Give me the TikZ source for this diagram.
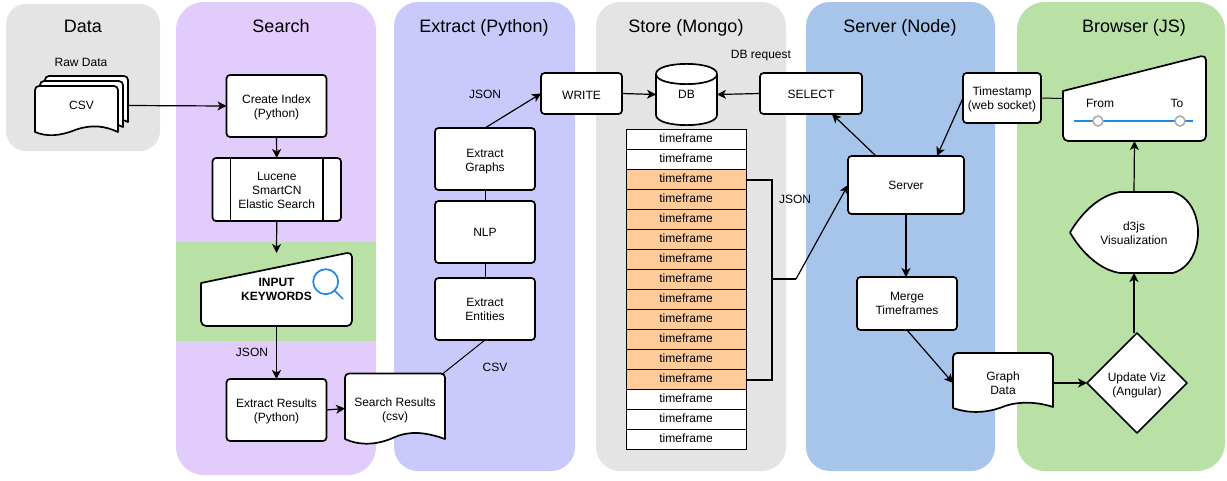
\documentclass[tikz,border=0pt]{standalone}
\usepackage{fontspec}
\setmainfont{Liberation Sans}
\usetikzlibrary{arrows.meta,shapes.geometric,calc}
\definecolor{pgray}{HTML}{E4E4E4}
\definecolor{ppurple}{HTML}{E1CCFB}
\definecolor{pindigo}{HTML}{C9CAFB}
\definecolor{pblue}{HTML}{A7C4EA}
\definecolor{pgreen}{HTML}{B9E0A5}
\definecolor{porange}{HTML}{FFCC99}
\definecolor{iconblue}{HTML}{1E88E5}
\definecolor{knob}{HTML}{AAAAAA}
\newcommand\lowerby[1]{\rule{0pt}{#1pt}}
\tikzset{
  every node/.style={inner sep=0pt,outer sep=0pt,align=center,font=\fontsize{12}{14}\selectfont},
  panel/.style={fill=#1,draw=none},
  title/.style={font=\fontsize{18}{20}\selectfont,text height=13pt,text depth=4pt},
  shapeline/.style={draw=black,fill=white,line width=1.7pt,line join=round},
  boxn/.style={shapeline,rectangle,rounded corners=3.5pt},
  ghost/.style={rectangle,draw=none,fill=none},
  conn/.style={draw=black,line width=1.2pt,-{Stealth[length=9pt,width=9pt,inset=2.5pt]}},
  plainlink/.style={draw=black,line width=1pt},
  rowbox/.style={rectangle,draw=black,line width=1pt,minimum width=120pt,minimum height=20pt,text height=9pt,text depth=3pt},
  bracket/.style={draw=black,line width=2pt},
}
\begin{document}
\begin{tikzpicture}[x=1pt,y=-1pt]
\useasboundingbox (0,0) rectangle (1227,480);
% swimlanes
\path[panel=pgray,rounded corners=20pt] (6,4) rectangle (160,151);
\path[panel=ppurple,rounded corners=28pt] (176,2) rectangle (376,475);
\path[panel=pindigo,rounded corners=24pt] (394,2) rectangle (575,471);
\path[panel=pgray,rounded corners=24pt] (596,2) rectangle (786,471);
\path[panel=pblue,rounded corners=24pt] (806,2) rectangle (995,471);
\path[panel=pgreen,rounded corners=28pt] (1017,2) rectangle (1225,471);
\path[panel=pgreen] (176,242) rectangle (376,341);
% titles
\node[title] (tData) at (83,28) {Data};
\node[title] (tSearch) at (281,28) {Search};
\node[title] (tExtract) at (484,28) {Extract (Python)};
\node[title] (tStore) at (686,28) {Store (Mongo)};
\node[title] (tServer) at (900,28) {Server (Node)};
\node[title] (tBrowser) at (1134,28) {Browser (JS)};
% csv stack
\foreach \dx/\dy in {10/-10,5/-5,0/0}{
  \begin{scope}[shift={(\dx,\dy)}]
  \path[shapeline] (35,132) [rounded corners=4pt] -- (35,86) -- (118,86) [sharp corners] -- (118,132)
     .. controls (105,126) and (92,124) .. (75,130) .. controls (60,136) and (47,137) .. (35,132) -- cycle;
  \end{scope}
}
\node[ghost,minimum width=93pt,minimum height=59pt] (csv) at (81.5,105.5) {CSV};
\node (rawlabel) at (81,62) {Raw Data};
% search column
\node[boxn,minimum width=100pt,minimum height=62pt] (create) at (276.5,106) {\lowerby{11}Create Index\\(Python)};
\node[boxn,minimum width=128.5pt,minimum height=63pt] (lucene) at (276.75,189.5) {\lowerby{11}Lucene\\SmartCN\\Elastic Search};
\draw[line width=1.5pt] ([xshift=18pt]lucene.north west) -- ([xshift=18pt]lucene.south west);
\draw[line width=1.5pt] ([xshift=-18pt]lucene.north east) -- ([xshift=-18pt]lucene.south east);
\path[shapeline] (201,283) [rounded corners=5pt] -- (352,252) -- (352,326) -- (201,326) [sharp corners] -- cycle;
\node[ghost,minimum width=151pt,minimum height=73pt,font=\fontsize{12}{14}\selectfont\bfseries] (input) at (276.5,289.5) {INPUT\\KEYWORDS};
\draw[iconblue,line width=1.7pt] (325.7,281.7) circle[radius=12.5pt];
\draw[iconblue,line width=1.7pt] (334.5,290.5) -- (343,299);
\node[boxn,minimum width=100pt,minimum height=62pt] (results) at (276.5,410) {\lowerby{11}Extract Results\\(Python)};
\node (jsonA) at (252,352) {JSON};
\path[shapeline] (345,439) [rounded corners=4pt] -- (345,373.5) -- (445,373.5) [sharp corners] -- (445,439)
   .. controls (428,433) and (412,430) .. (395,437) .. controls (378,445) and (360,446) .. (345,439) -- cycle;
\node[ghost,minimum width=100pt,minimum height=70pt] (searchres) at (395,408.5) {\lowerby{13}Search Results\\(csv)};
% extract column
\node[boxn,minimum width=100pt,minimum height=62pt] (graphs) at (485,159) {\lowerby{13}Extract\\Graphs};
\node[boxn,minimum width=100pt,minimum height=62pt] (nlp) at (485,232) {NLP};
\node[boxn,minimum width=100pt,minimum height=62pt] (entities) at (485,309) {Extract\\Entities};
\node[boxn,minimum width=81pt,minimum height=41pt] (write) at (581.5,93.5) {\lowerby{11}WRITE};
\node (jsonB) at (485,94) {JSON};
\node (csvlabel) at (495,367) {CSV};
% store column
\path[shapeline] (656,74) -- (656,115) .. controls (656,128.5) and (717,128.5) .. (717,115) -- (717,74)
   .. controls (717,60.5) and (656,60.5) .. (656,74) -- cycle;
\draw[line width=1.7pt] (656,74) .. controls (656,87.5) and (717,87.5) .. (717,74);
\node[ghost,minimum width=61pt,minimum height=61pt] (db) at (686.5,94.5) {DB};
\node[boxn,minimum width=102pt,minimum height=41pt] (select) at (811,93.5) {\lowerby{11}SELECT};
\node (dbreq) at (761,56) {DB request};
\foreach \i in {1,...,16}{
  \pgfmathsetmacro{\yy}{119.5+20*\i}
  \ifnum\i>2 \ifnum\i<14 \def\rowfill{porange}\else\def\rowfill{white}\fi\else\def\rowfill{white}\fi
  \node[rowbox,fill=\rowfill] (tf\i) at (686,\yy) {timeframe};
}
\coordinate (brk) at (772,279);
\coordinate (brkout) at (796,279);
\node (jsonC) at (795,199) {JSON};
% server column
\node[boxn,minimum width=116pt,minimum height=58pt] (server) at (906,185) {Server};
\node[boxn,minimum width=100pt,minimum height=53pt] (merge) at (907,303.5) {Merge\\Timeframes};
\path[shapeline] (953,408) [rounded corners=4pt] -- (953,353) -- (1053,353) [sharp corners] -- (1053,407)
   .. controls (1038,402) and (1020,401) .. (1005,406) .. controls (988,413) and (970,414) .. (953,408) -- cycle;
\node[ghost,minimum width=100pt,minimum height=60pt] (graphdata) at (1003,383) {Graph\\Data};
% browser column
\node[boxn,minimum width=78pt,minimum height=50pt] (stamp) at (1002,98) {\lowerby{11}Timestamp\\(web socket)};
\path[shapeline] (1063,91) [rounded corners=5pt] -- (1206,55) -- (1206,141) -- (1063,141) [sharp corners] -- cycle;
\node[ghost,minimum width=143pt,minimum height=85pt] (slider) at (1134.5,98.5) {};
\node (fromlabel) at (1100,103) {From};
\node (tolabel) at (1177,103) {To};
\coordinate (slideL) at (1074,121);
\coordinate (slideR) at (1193,121);
\draw[iconblue,line width=2.4pt] (slideL) -- (slideR);
\draw[knob,fill=white,line width=1.5pt] (1098,121) circle[radius=5pt];
\draw[knob,fill=white,line width=1.5pt] (1180,121) circle[radius=5pt];
\path[shapeline] (1070,232.5) .. controls (1082,212) and (1100,195) .. (1120,192) -- (1173,192)
   .. controls (1190,197) and (1198,215) .. (1198,232.5) .. controls (1198,250) and (1190,268) .. (1173,273)
   -- (1120,273) .. controls (1100,270) and (1082,253) .. (1070,232.5) -- cycle;
\node[ghost,minimum width=128pt,minimum height=81pt] (d3) at (1134,232.5) {\lowerby{11}d3js\\Visualization};
\node[diamond,aspect=1,shapeline,minimum width=100pt,minimum height=100pt] (update) at (1137,383) {\lowerby{13}Update Viz\\(Angular)};
% connectors
\draw[conn] (csv.east) -- (create.west);
\draw[conn] (create.south) -- (lucene.north);
\draw[conn] (lucene.south) -- (input.north);
\draw[conn] (input.south) -- (results.north);
\draw[conn] (results.east) -- (searchres.west);
\draw[plainlink] ([xshift=-2pt]searchres.north east) -- (entities.south);
\draw[plainlink] (entities.north) -- (nlp.south);
\draw[plainlink] (nlp.north) -- (graphs.south);
\draw[conn] (graphs.north) -- (write.west);
\draw[conn] (write.east) -- (db.west);
\draw[conn] (select.west) -- (db.east);
\draw[bracket] (tf3.east) -| (brk) |- (tf13.east);
\draw[bracket] (brk) -- (brkout);
\draw[conn] (brkout) -- (server.west);
\draw[conn] ([xshift=-30pt]server.north) -- ([xshift=-30pt]select.south east);
\draw[conn] (stamp.west) -- ([xshift=31pt]server.north);
\draw[plainlink] (stamp.east) -- (slider.west);
\draw[conn] (server.south) -- (server.south |- merge.north);
\draw[conn] (merge.south) -- (graphdata.west);
\draw[conn] (graphdata.east) -- (update.west);
\draw[conn] (d3.south |- update.north) -- (d3.south);
\draw[conn] (d3.north) -- (slider.south);
\end{tikzpicture}
\end{document}
